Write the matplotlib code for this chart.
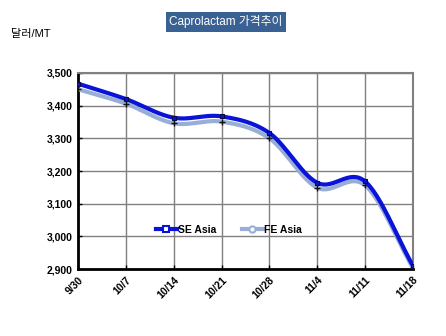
import numpy as np
import matplotlib
matplotlib.use("Agg")
import matplotlib.pyplot as plt
from matplotlib.lines import Line2D

# Weekly caprolactam prices (USD/MT)
dates = ["9/30", "10/7", "10/14", "10/21", "10/28", "11/4", "11/11", "11/18"]
se_asia = [3467, 3420, 3363, 3367, 3316, 3164, 3168, 2910]
fe_asia = [3450, 3406, 3346, 3351, 3300, 3149, 3156, 2903]

y_ticks = [2900, 3000, 3100, 3200, 3300, 3400, 3500]

SE_COLOR = "#0A14D8"
FE_COLOR = "#98AED6"
KFONT = ["Liberation Sans", "Noto Sans CJK KR", "DejaVu Sans"]


def smooth(xs, ys, steps=30):
    """Catmull-Rom curve through the points, like a spreadsheet's smoothed line."""
    xs = np.asarray(xs, float)
    ys = np.asarray(ys, float)
    px = np.concatenate([[2 * xs[0] - xs[1]], xs, [2 * xs[-1] - xs[-2]]])
    py = np.concatenate([[2 * ys[0] - ys[1]], ys, [2 * ys[-1] - ys[-2]]])
    outx, outy = [], []
    t = np.linspace(0, 1, steps)
    for i in range(1, len(px) - 2):
        p0x, p1x, p2x, p3x = px[i - 1:i + 3]
        p0y, p1y, p2y, p3y = py[i - 1:i + 3]
        b1x = p1x + (p2x - p0x) / 6
        b1y = p1y + (p2y - p0y) / 6
        b2x = p2x - (p3x - p1x) / 6
        b2y = p2y - (p3y - p1y) / 6
        bx = (1 - t) ** 3 * p1x + 3 * (1 - t) ** 2 * t * b1x + 3 * (1 - t) * t ** 2 * b2x + t ** 3 * p2x
        by = (1 - t) ** 3 * p1y + 3 * (1 - t) ** 2 * t * b1y + 3 * (1 - t) * t ** 2 * b2y + t ** 3 * p2y
        outx.extend(bx)
        outy.extend(by)
    return np.array(outx), np.array(outy)


fig = plt.figure(figsize=(4.46, 3.36), dpi=100)
ax = fig.add_axes([0.175, 0.199, 0.751, 0.584])

x = np.arange(len(dates))

fx, fy = smooth(x, fe_asia)
ax.plot(fx, fy, color=FE_COLOR, lw=3.0, solid_capstyle="round", zorder=3)
ax.plot(x, fe_asia, ls="none", marker="+", ms=4, mec="#111111", mew=1.0, zorder=4)

sx, sy = smooth(x, se_asia)
ax.plot(sx, sy, color=SE_COLOR, lw=3.0, solid_capstyle="round", zorder=5)
ax.plot(x, se_asia, ls="none", marker="s", ms=3.5, mfc=SE_COLOR, mec="#0a0a40", mew=0.8, zorder=6)

ax.set_xlim(0, len(dates) - 1)
ax.set_ylim(2900, 3500)
ax.set_yticks(y_ticks)
ax.set_yticklabels([f"{v:,}" for v in y_ticks], fontsize=7.5, family="Liberation Sans",
                   weight="bold")
ax.set_xticks(x)
ax.set_xticklabels(dates, rotation=45, ha="right", va="top", fontsize=7.5, weight="bold",
                   family="Liberation Sans", rotation_mode="anchor")
ax.tick_params(axis="both", direction="in", length=3, width=1, color="black", pad=4)

ax.grid(True, color="#808080", lw=1)
ax.set_axisbelow(True)
for side in ("left", "bottom"):
    ax.spines[side].set_color("black")
    ax.spines[side].set_linewidth(2)
for side in ("top", "right"):
    ax.spines[side].set_color("#808080")
    ax.spines[side].set_linewidth(1.5)

handles = [
    Line2D([], [], color=SE_COLOR, lw=3, marker="s", ms=5, mfc="white", mec=SE_COLOR, mew=1.5),
    Line2D([], [], color=FE_COLOR, lw=3, marker="o", ms=4.5, mfc="white", mec=FE_COLOR, mew=1.5),
]
leg = ax.legend(handles, ["SE Asia", "FE Asia"], loc="center", bbox_to_anchor=(0.45, 0.2),
                ncol=2, frameon=False, handlelength=2.0, handletextpad=0.1,
                columnspacing=2.5, prop={"family": "Liberation Sans", "size": 7.5, "weight": "bold"})

fig.text(0.507, 0.935, "Caprolactam 가격추이", ha="center", va="center", color="white",
         fontsize=8.5, family=KFONT,
         bbox=dict(boxstyle="square,pad=0.3", fc="#3A6194", ec="none"))
fig.text(0.025, 0.9, "달러/MT", ha="left", va="center", fontsize=8, family=KFONT)

fig.savefig("out.png", dpi=100)
